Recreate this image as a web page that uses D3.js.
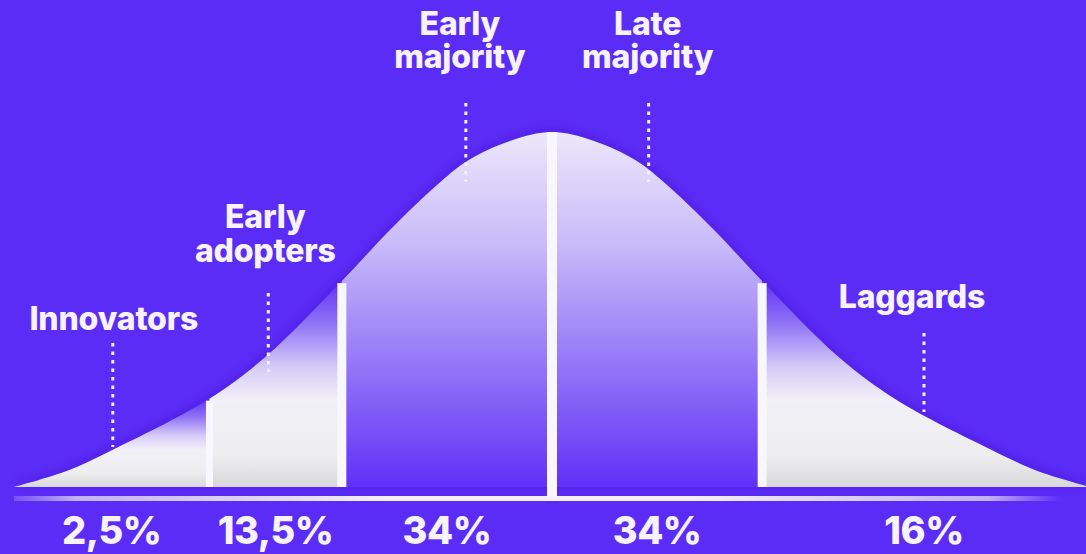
<!DOCTYPE html>
<html><head><meta charset="utf-8">
<script src="https://cdn.jsdelivr.net/npm/d3@7"></script>
<style>html,body{margin:0;padding:0;background:#5b2cf6;overflow:hidden}svg{display:block}</style>
</head><body><svg id="c" width="1086" height="554"></svg>
<script>
// ---- data ----
const categories = ["Innovators", "Early adopters", "Early majority", "Late majority", "Laggards"];
const shares = ["2,5%", "13,5%", "34%", "34%", "16%"];
// segment edges, in standard deviations from the mean
const boundaries = [-2.56, -1.63, -1.0, 0, 1.0, 2.56];
// where each category label / leader sits (std devs)
const labelCenters = [-2.09, -1.35, -0.41, 0.46, 1.77];
// bell curve (x in std devs, relative height)
const curveX = [-2.56, -2.31, -2.09, -1.64, -1.36, -1.0, -0.77, -0.53, -0.4, -0.2, 0, 0.2, 0.4, 0.53, 0.77, 1.0, 1.36, 1.64, 2.09, 2.31, 2.56];
const curveY = [0, 0.045, 0.105, 0.245, 0.368, 0.58, 0.725, 0.86, 0.92, 0.975, 1, 0.975, 0.92, 0.86, 0.725, 0.58, 0.368, 0.245, 0.105, 0.045, 0];

// ---- layout ----
const W = 1086, H = 554;
const labelLayout = [
  {dx: 1,  lines: [330], lead: [343, 447]},
  {dx: -3, lines: [228, 262], lead: [293, 372]},
  {dx: -6, lines: [35, 68], lead: [103, 182]},
  {dx: -1, lines: [35, 68], lead: [103, 182]},
  {dx: -12, lines: [308], lead: [333, 412]}
];
const barWidths = [7, 9, 10, 9];
const FONT = "Inter, 'Open Sans', sans-serif";

const svg = d3.select("#c");
svg.append("rect").attr("width", W).attr("height", H).attr("fill", "#5b2cf6");

const x = d3.scaleLinear().domain([-2.56, 2.56]).range([14, 1090]);
const y = d3.scaleLinear().domain([0, 1]).range([487, 132]);
const pts = curveX.map((v, i) => [v, curveY[i]]);
const cv = d3.curveCatmullRom.alpha(0.5);
const area = d3.area().x(d => x(d[0])).y0(y(0)).y1(d => y(d[1])).curve(cv);
const line = d3.line().x(d => x(d[0])).y(d => y(d[1])).curve(cv);

const defs = svg.append("defs");
defs.append("clipPath").attr("id", "bell").append("path").attr("d", area(pts));
defs.append("filter").attr("id", "blur").attr("x", "-10%").attr("y", "-10%").attr("width", "120%").attr("height", "120%")
  .append("feGaussianBlur").attr("stdDeviation", 5);

function grad(id, stops, attrs) {
  const g = defs.append("linearGradient").attr("id", id);
  Object.entries(attrs).forEach(([k, v]) => g.attr(k, v));
  stops.forEach(s => g.append("stop").attr("offset", s[0]).attr("stop-color", s[1]).attr("stop-opacity", s[2] == null ? 1 : s[2]));
}
grad("outer", [[0, "#6233f6"], [0.2, "#8e70f6"], [0.42, "#d6ccf8"], [0.58, "#f2f0f8"], [0.85, "#ededee"], [1, "#d8d8dc"]], {x1: 0, y1: 0, x2: 0, y2: 1});
grad("inner", [[0, "#ece7fb"], [0.3, "#cbbdf9"], [0.55, "#a48bf7"], [0.8, "#7e59f7"], [1, "#6230f8"]], {x1: 0, y1: 0, x2: 0, y2: 1});
grad("base", [[0, "#b9a6f8", 0.3], [0.06, "#c3b1fa"], [0.35, "#f3effe"], [0.65, "#f3effe"], [0.93, "#c3b1fa"], [1, "#b9a6f8", 0]], {x1: 0, y1: 0, x2: 1, y2: 0});

// probe path for reading the curve height at any x
const probe = svg.append("path").attr("d", line(pts)).attr("fill", "none").attr("stroke", "none");
const node = probe.node(), L = node.getTotalLength();
function curveYAt(px) {
  let lo = 0, hi = L;
  for (let k = 0; k < 40; k++) {
    const m = (lo + hi) / 2;
    if (node.getPointAtLength(m).x < px) lo = m; else hi = m;
  }
  return node.getPointAtLength((lo + hi) / 2).y;
}

// soft dark shadow along the curve
svg.append("path").attr("d", area(pts)).attr("fill", "#3a0fc4").attr("opacity", 0.45).attr("filter", "url(#blur)")
  .attr("transform", "translate(0,-2)");

// segments
const segs = categories.map((c, i) => ({c, i, x0: boundaries[i], x1: boundaries[i + 1]}));
const topOf = d => Math.min(curveYAt(x(d.x0) + 0.01), curveYAt(x(d.x1) - 0.01));
const gSeg = svg.append("g").attr("clip-path", "url(#bell)");
gSeg.selectAll("rect").data(segs).join("rect")
  .attr("x", d => x(d.x0))
  .attr("width", d => x(d.x1) - x(d.x0))
  .attr("y", d => topOf(d))
  .attr("height", d => y(0) - topOf(d))
  .attr("fill", d => (d.i === 2 || d.i === 3) ? "url(#inner)" : "url(#outer)");

// baseline strip
svg.append("rect").attr("x", x(-2.56)).attr("y", 496).attr("width", 1062 - x(-2.56)).attr("height", 5).attr("fill", "url(#base)");

// white separators
const inner = boundaries.slice(1, -1);
svg.selectAll("rect.bar").data(inner).join("rect").attr("class", "bar")
  .attr("x", (d, i) => x(d) - barWidths[i] / 2)
  .attr("width", (d, i) => barWidths[i])
  .attr("y", d => curveYAt(x(d)) + (d === 0 ? 0 : 2))
  .attr("height", d => (d === 0 ? 498 : y(0)) - curveYAt(x(d)) - (d === 0 ? 0 : 2))
  .attr("fill", "#f8f6fe");

// leader dotted lines
svg.selectAll("line.lead").data(labelCenters).join("line").attr("class", "lead")
  .attr("x1", d => x(d)).attr("x2", d => x(d))
  .attr("y1", (d, i) => labelLayout[i].lead[0]).attr("y2", (d, i) => labelLayout[i].lead[1])
  .attr("stroke", "#f4f0ff").attr("stroke-width", 3).attr("stroke-dasharray", "3.5 5");

// category labels
const gl = svg.selectAll("text.cat").data(categories).join("text").attr("class", "cat")
  .attr("text-anchor", "middle").attr("fill", "#f6f3ff")
  .style("font-family", FONT).style("font-weight", 800).style("font-size", "32px").style("letter-spacing", "-0.2px");
gl.each(function (c, i) {
  const words = c.split(" ");
  const lay = labelLayout[i];
  const t = d3.select(this);
  words.forEach((w, k) => {
    t.append("tspan").attr("x", x(labelCenters[i]) + lay.dx).attr("y", lay.lines[k]).text(w);
  });
});

// share labels under each segment
svg.selectAll("text.share").data(shares).join("text").attr("class", "share")
  .attr("x", (d, i) => (Math.max(x(boundaries[i]), 14) + Math.min(x(boundaries[i + 1]), W)) / 2)
  .attr("y", 544)
  .attr("text-anchor", "middle").attr("fill", "#f6f3ff")
  .style("font-family", FONT).style("font-weight", 800).style("font-size", "38px").style("letter-spacing", "-0.5px")
  .text(d => d);
</script>
</body></html>
